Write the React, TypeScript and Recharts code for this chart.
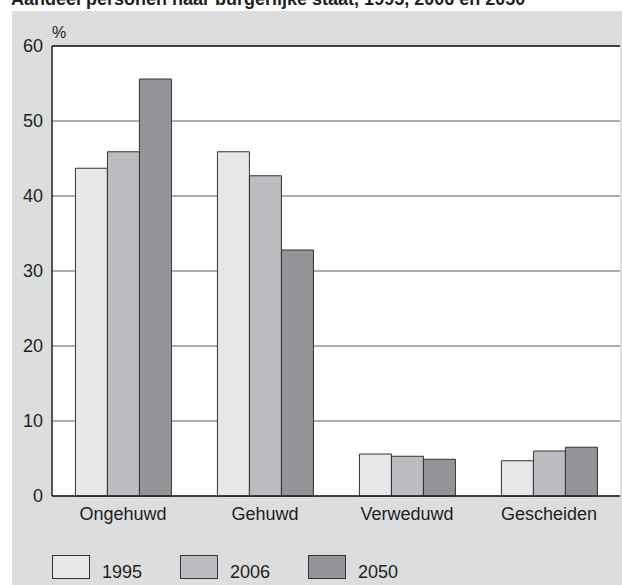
import React from "react";
import { BarChart, Bar, XAxis, YAxis, CartesianGrid, ReferenceLine } from "recharts";

const categories = ["Ongehuwd", "Gehuwd", "Verweduwd", "Gescheiden"];
const values1995 = [43.7, 45.9, 5.6, 4.7];
const values2006 = [45.9, 42.7, 5.3, 6.0];
const values2050 = [55.6, 32.8, 4.9, 6.5];
const seriesYears = ["1995", "2006", "2050"];
const yTicks = [0, 10, 20, 30, 40, 50, 60];
const titleText = "Aandeel personen naar burgerlijke staat, 1995, 2006 en 2050";

const fills = ["#e6e7e9", "#bcbdc0", "#939598"];
const font = "'Liberation Sans', Arial, sans-serif";

const data = categories.map((c, i) => ({
  name: c,
  y1995: values1995[i],
  y2006: values2006[i],
  y2050: values2050[i],
}));
const keys = ["y1995", "y2006", "y2050"];

export default function App() {
  return (
    <div
      style={{
        position: "fixed",
        left: 0,
        top: 0,
        width: 622,
        height: 585,
        overflow: "hidden",
        background: "#fff",
        fontFamily: font,
      }}
    >
      <div style={{ position: "absolute", left: 12, top: 11, right: 0, bottom: 0, background: "#dcdddf" }} />
      <div
        style={{
          position: "absolute",
          left: 11,
          top: -10,
          fontSize: 18,
          lineHeight: "18px",
          fontWeight: "bold",
          color: "#231f20",
          whiteSpace: "nowrap",
        }}
      >
        {titleText}
      </div>
      <div
        style={{
          position: "absolute",
          left: 52,
          top: 25,
          fontSize: 16,
          lineHeight: "16px",
          color: "#231f20",
        }}
      >
        %
      </div>
      <div style={{ position: "absolute", left: 0, top: 0 }}>
        <BarChart
          width={622}
          height={585}
          data={data}
          margin={{ top: 46, right: 2, left: 0, bottom: 0 }}
          barCategoryGap="16.5%"
          barGap={0}
        >
          <CartesianGrid
            vertical={false}
            stroke="#5a5a5a"
            strokeWidth={1.2}
            fill="#ffffff"
            fillOpacity={1}
          />
          <XAxis
            dataKey="name"
            height={89}
            tickLine={false}
            tickSize={0}
            tickMargin={11}
            axisLine={{ stroke: "#231f20", strokeWidth: 1.5 }}
            tick={{ fontSize: 18, fill: "#231f20", fontFamily: font }}
            interval={0}
          />
          <YAxis
            width={52}
            domain={[0, 60]}
            ticks={yTicks}
            tickLine={false}
            tickSize={0}
            tickMargin={9}
            axisLine={{ stroke: "#231f20", strokeWidth: 1.5 }}
            tick={{ fontSize: 18, fill: "#231f20", fontFamily: font }}
            interval={0}
          />
          <YAxis
            yAxisId="r"
            orientation="right"
            width={0}
            domain={[0, 60]}
            ticks={yTicks}
            tick={false}
            tickLine={false}
            axisLine={{ stroke: "#231f20", strokeWidth: 1.5 }}
          />
          <ReferenceLine y={60} stroke="#231f20" strokeWidth={1.5} />
          {keys.map((k, i) => (
            <Bar
              key={k}
              dataKey={k}
              name={seriesYears[i]}
              fill={fills[i]}
              stroke="#333"
              strokeWidth={1}
              isAnimationActive={false}
            />
          ))}
        </BarChart>
      </div>
      {seriesYears.map((y, i) => {
        const lefts = [52, 180, 308];
        return (
          <React.Fragment key={y}>
            <div
              style={{
                position: "absolute",
                left: lefts[i],
                top: 555,
                width: 38,
                height: 24,
                boxSizing: "border-box",
                border: "1px solid #333",
                background: fills[i],
              }}
            />
            <div
              style={{
                position: "absolute",
                left: lefts[i] + 50,
                top: 563,
                fontSize: 18,
                lineHeight: "18px",
                color: "#231f20",
              }}
            >
              {y}
            </div>
          </React.Fragment>
        );
      })}
    </div>
  );
}
